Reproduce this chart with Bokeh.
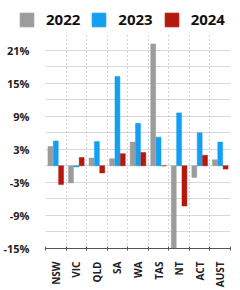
import numpy as np
from bokeh.plotting import figure
from bokeh.models import (ColumnDataSource, Range1d, FixedTicker, LinearAxis, Legend,
                          LegendItem, Grid, PrintfTickFormatter)
from bokeh.transform import dodge
from bokeh.embed import file_html
from bokeh.resources import INLINE

regions = ["NSW", "VIC", "QLD", "SA", "WA", "TAS", "NT", "ACT", "AUST"]
v2022 = [3.5, -3.1, 1.4, 1.3, 4.3, 22.1, -15.1, -2.1, 1.1]
v2023 = [4.5, -0.2, 4.4, 16.2, 7.7, 5.2, 9.6, 6.0, 4.3]
v2024 = [-3.4, 1.5, -1.3, 2.2, 2.4, 0.0, -7.3, 1.9, -0.6]
years = ["2022", "2023", "2024"]
colors = ["#9c9c9c", "#139ff2", "#b3190d"]
y_labels = [-15, -9, -3, 3, 9, 15, 21]

pos = [i + 0.5 for i in range(len(regions))]
src = ColumnDataSource(dict(x=pos, v2022=v2022, v2023=v2023, v2024=v2024))

# ---- legend strip (its marks lie outside its visible range; only the legend shows) ----
leg = figure(width=240, height=33, output_backend="svg", toolbar_location=None,
             x_range=Range1d(0, 1), y_range=Range1d(100, 101),
             x_axis_type=None, y_axis_type=None,
             min_border_left=0, min_border_right=0, min_border_top=0, min_border_bottom=0)
leg.outline_line_color = None
leg.xgrid.visible = False
leg.ygrid.visible = False
leg_items = []
for yr, col in zip(years, colors):
    r = leg.rect(x="x", y="v" + yr, width=0.1, height=0.1, source=src,
                 fill_color=col, line_color=col)
    leg_items.append(LegendItem(label=yr, renderers=[r]))
legend = Legend(items=leg_items, orientation="horizontal", location=(18, 4))
legend.label_text_font = "Open Sans"
legend.label_text_font_style = "bold"
legend.label_text_font_size = "15px"
legend.label_text_color = "#111111"
legend.glyph_width = 17
legend.glyph_height = 17
legend.label_standoff = 11
legend.spacing = 10
legend.padding = 4
legend.margin = 0
legend.border_line_color = None
legend.background_fill_alpha = 0
leg.add_layout(legend)

# ---- main chart ----
p = figure(width=240, height=257, output_backend="svg", toolbar_location=None,
           x_range=Range1d(0, len(regions)), y_range=Range1d(-15, 24),
           x_axis_type=None, min_border_left=45, min_border_right=10,
           min_border_bottom=39, min_border_top=0)
p.outline_line_color = None
p.background_fill_color = "white"

for yr, off, col in zip(years, [-0.26, 0.0, 0.26], colors):
    p.vbar(x=dodge("x", off), top="v" + yr, bottom=0, width=0.24, source=src,
           fill_color=col, line_color=col, line_width=0.5)

xaxis = LinearAxis(ticker=FixedTicker(ticks=pos, minor_ticks=list(range(len(regions) + 1))))
xaxis.major_label_overrides = {float(x): n for x, n in zip(pos, regions)}
xaxis.major_label_orientation = np.pi / 2
xaxis.major_tick_line_color = None
xaxis.minor_tick_in = 2
xaxis.minor_tick_out = 2
xaxis.minor_tick_line_color = "#555555"
xaxis.axis_line_color = "#555555"
xaxis.major_label_text_font = "Open Sans"
xaxis.major_label_text_font_style = "bold"
xaxis.major_label_text_font_size = "10px"
xaxis.major_label_text_color = "#222222"
xaxis.major_label_standoff = 7
p.add_layout(xaxis, "below")

p.yaxis.ticker = FixedTicker(ticks=y_labels, minor_ticks=list(range(-15, 25, 3)))
p.yaxis.formatter = PrintfTickFormatter(format="%d%%")
p.yaxis.axis_line_color = None
p.yaxis.major_tick_line_color = None
p.yaxis.minor_tick_line_color = None
p.yaxis.major_label_text_font = "Open Sans"
p.yaxis.major_label_text_font_style = "bold"
p.yaxis.major_label_text_font_size = "11px"
p.yaxis.major_label_text_color = "#222222"
p.yaxis.major_label_standoff = 10

p.ygrid.grid_line_color = "#d8d8d8"
p.ygrid.minor_grid_line_color = "#d8d8d8"
p.ygrid.grid_line_width = 1

vgrid = Grid(dimension=0, ticker=FixedTicker(ticks=list(range(len(regions) + 1))),
             grid_line_color="#aaaaaa", grid_line_dash="1 3", grid_line_width=1)
p.add_layout(vgrid)

open("out.html", "w").write(file_html([leg, p], INLINE))
